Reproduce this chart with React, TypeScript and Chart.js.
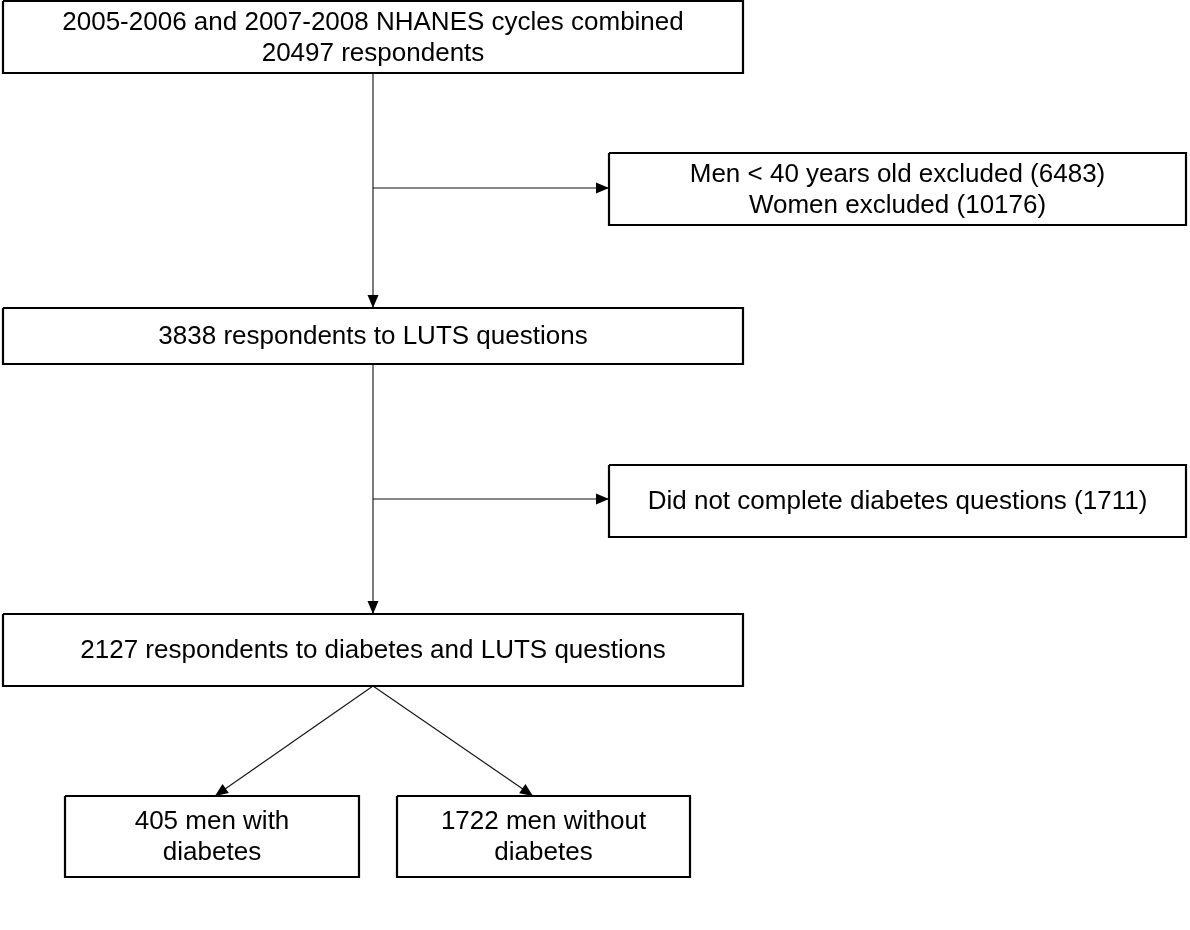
import React, { useEffect, useRef } from "react";
import { Chart, registerables } from "chart.js";

Chart.register(...registerables);

// Flow-chart content (diagram units: x 0..1190, y 0..930, y downward)
const BOX_TEXT: string[][] = [
  ["2005-2006 and 2007-2008 NHANES cycles combined", "20497 respondents"],
  ["Men < 40 years old excluded (6483)", "Women excluded (10176)"],
  ["3838 respondents to LUTS questions"],
  ["Did not complete diabetes questions (1711)"],
  ["2127 respondents to diabetes and LUTS questions"],
  ["405 men with", "diabetes"],
  ["1722 men without", "diabetes"],
];
const BOX_LEFT = [3, 609, 3, 609, 3, 65, 397];
const BOX_RIGHT = [743, 1186, 743, 1186, 743, 359, 690];
const BOX_TOP = [1, 153, 308, 465, 614, 796, 796];
const BOX_BOTTOM = [73, 225, 364, 537, 686, 877, 877];

// Connectors: start (x, y) -> end (x, y), each ends with an arrowhead
const LINK_X0 = [373, 373, 373, 373, 373, 373];
const LINK_Y0 = [73, 188, 364, 499, 686, 686];
const LINK_X1 = [373, 609, 373, 609, 215, 533];
const LINK_Y1 = [308, 188, 614, 499, 796, 796];

const W = 1190;
const H = 930;
const FONT_PX = 26;

export default function App() {
  const ref = useRef<HTMLCanvasElement | null>(null);

  useEffect(() => {
    document.body.style.margin = "0";
    const canvas = ref.current;
    if (!canvas) return;

    const boxSets = BOX_TEXT.map((_, i) => ({
      label: "box" + i,
      data: [
        { x: BOX_LEFT[i], y: BOX_TOP[i] },
        { x: BOX_RIGHT[i], y: BOX_TOP[i] },
        { x: BOX_RIGHT[i], y: BOX_BOTTOM[i] },
        { x: BOX_LEFT[i], y: BOX_BOTTOM[i] },
        { x: BOX_LEFT[i], y: BOX_TOP[i] },
      ],
      showLine: true,
      borderColor: "#000000",
      borderWidth: 2.2,
      pointRadius: 0,
      fill: false,
      tension: 0,
      borderJoinStyle: "miter" as const,
    }));

    const linkSets = LINK_X0.map((_, i) => ({
      label: "link" + i,
      data: [
        { x: LINK_X0[i], y: LINK_Y0[i] },
        { x: LINK_X1[i], y: LINK_Y1[i] },
      ],
      showLine: true,
      borderColor: "#111111",
      borderWidth: 1.1,
      pointRadius: 0,
      fill: false,
      tension: 0,
    }));

    const overlay = {
      id: "flowOverlay",
      afterDatasetsDraw(chart: any) {
        const ctx = chart.ctx as CanvasRenderingContext2D;
        const xs = chart.scales.x;
        const ys = chart.scales.y;
        ctx.save();
        // arrowheads
        ctx.fillStyle = "#000000";
        for (let i = 0; i < LINK_X0.length; i++) {
          const sx = xs.getPixelForValue(LINK_X0[i]);
          const sy = ys.getPixelForValue(LINK_Y0[i]);
          const ex = xs.getPixelForValue(LINK_X1[i]);
          const ey = ys.getPixelForValue(LINK_Y1[i]);
          const ang = Math.atan2(ey - sy, ex - sx);
          const len = 13;
          const half = 5.5;
          const bx = ex - len * Math.cos(ang);
          const by = ey - len * Math.sin(ang);
          ctx.beginPath();
          ctx.moveTo(ex, ey);
          ctx.lineTo(bx - half * Math.sin(ang), by + half * Math.cos(ang));
          ctx.lineTo(bx + half * Math.sin(ang), by - half * Math.cos(ang));
          ctx.closePath();
          ctx.fill();
        }
        // box texts
        ctx.fillStyle = "#000000";
        ctx.textAlign = "center";
        ctx.textBaseline = "middle";
        ctx.font = FONT_PX + 'px "Liberation Sans", Arial, sans-serif';
        const lineH = 31;
        for (let i = 0; i < BOX_TEXT.length; i++) {
          const cx = (xs.getPixelForValue(BOX_LEFT[i]) + xs.getPixelForValue(BOX_RIGHT[i])) / 2;
          const cy = (ys.getPixelForValue(BOX_TOP[i]) + ys.getPixelForValue(BOX_BOTTOM[i])) / 2;
          const lines = BOX_TEXT[i];
          const start = cy - ((lines.length - 1) * lineH) / 2;
          lines.forEach((t, k) => ctx.fillText(t, cx, start + k * lineH + 1));
        }
        ctx.restore();
      },
    };

    const chart = new Chart(canvas, {
      type: "scatter",
      data: { datasets: [...boxSets, ...linkSets] as any },
      options: {
        animation: false,
        responsive: false,
        devicePixelRatio: 1,
        events: [],
        layout: { padding: 0 },
        plugins: {
          legend: { display: false },
          tooltip: { enabled: false },
          title: { display: false },
        },
        scales: {
          x: { type: "linear", min: 0, max: W, display: false },
          y: { type: "linear", min: 0, max: H, reverse: true, display: false },
        },
      },
      plugins: [overlay],
    });

    return () => chart.destroy();
  }, []);

  return (
    <div style={{ position: "absolute", left: 0, top: 0, width: W, height: H, background: "#ffffff" }}>
      <canvas ref={ref} width={W} height={H} style={{ width: W, height: H, display: "block" }} />
    </div>
  );
}
